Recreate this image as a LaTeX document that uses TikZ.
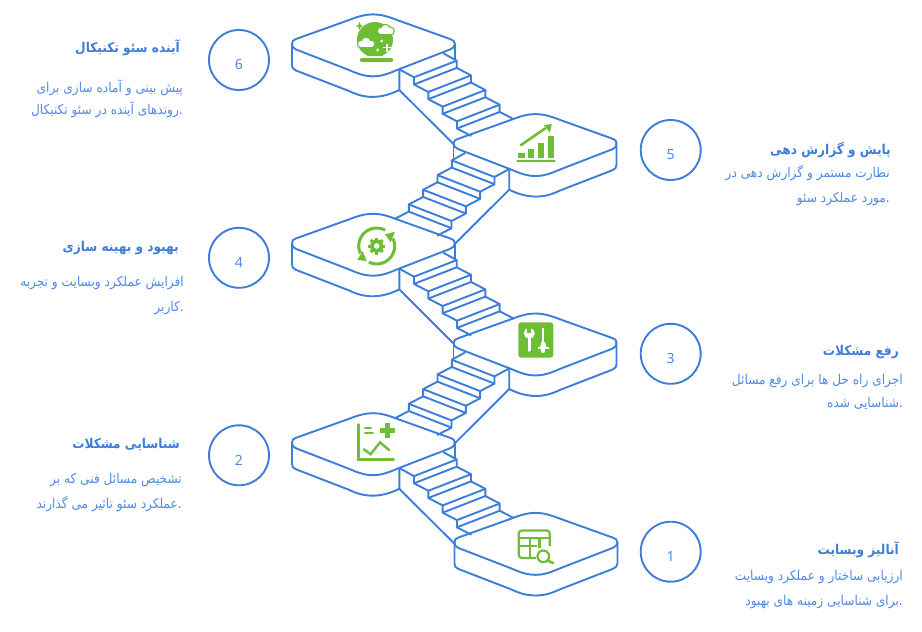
\documentclass[tikz,border=0pt]{standalone}
\usepackage{fontspec}
\setmainfont{Noto Sans}
\newfontfamily\farsifont[Script=Arabic,FakeStretch=0.9]{DejaVu Sans}
\TeXXeTstate=1
\definecolor{stairblue}{HTML}{3C7DD9}
\definecolor{textblue}{HTML}{4F8AE3}
\definecolor{icongreen}{HTML}{6DBE35}
\tikzset{
  stairline/.style={color=stairblue,line width=1.9pt,line join=round},
  iconfill/.style={fill=icongreen,draw=none},
  iconline/.style={color=icongreen,line width=2.4pt,line cap=round},
  stepcircle/.style={circle,draw=stairblue,line width=1.9pt,minimum size=60pt,inner sep=0pt},
  numtext/.style={color=textblue,inner sep=0pt,font=\fontsize{14}{16}\selectfont},
  titletext/.style={color=stairblue,anchor=east,inner sep=0pt,font=\farsifont\bfseries\fontsize{13.5}{16}\selectfont},
  bodytext/.style={color=textblue,anchor=east,align=right,inner sep=0pt,font=\farsifont\fontsize{13.5}{24}\selectfont},
  platform/.pic={
    \draw[stairline] (-81,-1) .. controls (-81,-4) and (-80,-5) .. (-77,-6) -- (-24,-25)
      .. controls (-5,-32.5) and (5,-32.5) .. (24,-25) -- (77,-6)
      .. controls (80,-5) and (82,-4) .. (82,-1) .. controls (82,2) and (80,3) .. (77,4.5) -- (24,25)
      .. controls (5,33.5) and (-5,33.5) .. (-24,25) -- (-77,4.5)
      .. controls (-80,3) and (-81,2) .. (-81,-1);
    \draw[stairline] (-81,-1) -- (-81,20) .. controls (-81,23) and (-80,24) .. (-77,25.5) -- (-24,46)
      .. controls (-8,54) and (8,54) .. (26.3,45) -- (26.3,24);
  },
  endplatform/.pic={
    \draw[stairline] (-81,-1) .. controls (-81,-4) and (-80,-5) .. (-77,-6) -- (-24,-25)
      .. controls (-5,-32.5) and (5,-32.5) .. (24,-25) -- (77,-6)
      .. controls (80,-5) and (82,-4) .. (82,-1) .. controls (82,2) and (80,3) .. (77,4.5) -- (24,25)
      .. controls (5,33.5) and (-5,33.5) .. (-24,25) -- (-77,4.5)
      .. controls (-80,3) and (-81,2) .. (-81,-1);
    \draw[stairline] (-81,-1) -- (-81,20) .. controls (-81,23) and (-80,24) .. (-77,25.5) -- (-24,46)
      .. controls (-8,54) and (8,54) .. (24,46) -- (77,25.5)
      .. controls (80,24) and (82,23) .. (82,20) -- (82,-1);
  },
  stairs/.pic={
    \draw[stairline] (26.3,45) -- (81.5,100);
    \draw[stairline] (82,-1) -- (82,14.5);
    \draw[stairline] (26.3,24.3) -- (41,32.3);
    \draw[stairline] (70.3,8.3) -- (83.7,15.7);
    \foreach \i in {0,1,2,3} {
      \pgfmathsetmacro{\lx}{41+14.33*\i}
      \pgfmathsetmacro{\ly}{32.3+14.67*\i}
      \pgfmathsetmacro{\rx}{83.7+14.33*\i}
      \pgfmathsetmacro{\ry}{15.7+14.67*\i}
      \draw[stairline] (\lx,\ly) -- (\rx,\ry) -- ++(0,7.2) -- (\lx,\ly+7.2) -- cycle;
      \draw[stairline] (\lx,\ly+7.2) -- ++(14.33,7.47);
      \draw[stairline] (\rx,\ry+7.2) -- ++(14.33,7.47);
    }
  }
}

\begin{document}
\begin{tikzpicture}[x=1pt,y=-1pt]

  \useasboundingbox (0,0) rectangle (922,632);

  \pic at (373,45) {stairs};
  \pic[xscale=-1] at (535.5,144.7) {stairs};
  \pic at (373,244.4) {stairs};
  \pic[xscale=-1] at (535.5,344.1) {stairs};
  \pic at (373,443.8) {stairs};

  \pic at (373,45) {platform};
  \pic[xscale=-1] at (535.5,144.7) {platform};
  \pic at (373,244.4) {platform};
  \pic[xscale=-1] at (535.5,344.1) {platform};
  \pic at (373,443.8) {platform};
  \pic at (535.5,543.5) {endplatform};

  \node[stepcircle] (circle6) at (239,60) {};
  \node[stepcircle] (circle5) at (670.7,150) {};
  \node[stepcircle] (circle4) at (239,257.8) {};
  \node[stepcircle] (circle3) at (670.7,353.8) {};
  \node[stepcircle] (circle2) at (239,455.3) {};
  \node[stepcircle] (circle1) at (670.7,551.7) {};

  \node[numtext] (num6) at (239,64.5) {6};
  \node[numtext] (num5) at (670.7,154.5) {5};
  \node[numtext] (num4) at (239,262.5) {4};
  \node[numtext] (num3) at (670.7,358.8) {3};
  \node[numtext] (num2) at (239,460.5) {2};
  \node[numtext] (num1) at (670.7,556.7) {1};

  \node[titletext] (title6) at (180,48) {\beginR آینده سئو تکنیکال\endR};
  \node[titletext] (title5) at (891,150) {\beginR پایش و گزارش دهی\endR};
  \node[titletext] (title4) at (179,248) {\beginR بهبود و بهینه سازی\endR};
  \node[titletext] (title3) at (899,352) {\beginR رفع مشکلات\endR};
  \node[titletext] (title2) at (180,444) {\beginR شناسایی مشکلات\endR};
  \node[titletext] (title1) at (899,550) {\beginR آنالیز وبسایت\endR};

  \node[bodytext] (body6) at (183,99) {\beginR پیش بینی و آماده سازی برای\endR\\[-2pt]\beginR .روندهای آینده در سئو تکنیکال\endR};
  \node[bodytext] (body5) at (890,185.5) {\beginR نظارت مستمر و گزارش دهی در\endR\\[1pt]\beginR .مورد عملکرد سئو\endR};
  \node[bodytext] (body4) at (184,295.5) {\beginR افزایش عملکرد وبسایت و تجربه\endR\\[1pt]\beginR .کاربر\endR};
  \node[bodytext] (body3) at (903,391.5) {\beginR اجرای راه حل ها برای رفع مسائل\endR\\[-1pt]\beginR .شناسایی شده\endR};
  \node[bodytext] (body2) at (182,492.5) {\beginR تشخیص مسائل فنی که بر\endR\\[1pt]\beginR .عملکرد سئو تاثیر می گذارند\endR};
  \node[bodytext] (body1) at (903,589.5) {\beginR ارزیابی ساختار و عملکرد وبسایت\endR\\[1pt]\beginR .برای شناسایی زمینه های بهبود\endR};

  % crystal ball
  \fill[iconfill] (368,56) .. controls (360,52) and (357,46) .. (357,40)
    .. controls (357,30) and (365,22) .. (375,22) .. controls (385,22) and (393,30) .. (393,40)
    .. controls (393,46) and (390,52) .. (382,56) -- cycle;
  \draw[icongreen,line width=4.4pt,line cap=round] (362,60) -- (391,60);
  \fill[iconfill] (359.5,22) -- (360.8,25) -- (363.5,26) -- (360.8,27) -- (359.5,30) -- (358.2,27) -- (355.5,26) -- (358.2,25) -- cycle;
  \foreach \cx/\cy/\cr in {381/31/3,385.5/29/4,390.5/31/3.2,361/44/3,366/42/4.2,371/44/3.2} {
    \draw[fill=icongreen,draw=icongreen,line width=2.4pt] (\cx,\cy) circle[radius=\cr];
  }
  \foreach \cx/\cy/\cr in {381/31/3,385.5/29/4,390.5/31/3.2,361/44/3,366/42/4.2,371/44/3.2} {
    \fill[white] (\cx,\cy) circle[radius=\cr];
  }
  \fill[white] (381,31) rectangle (390.5,34.2);
  \fill[white] (361,44) rectangle (371,47.2);
  \fill[white] (381.5,41) circle[radius=1.5];
  \fill[white] (377.5,50) circle[radius=1.5];
  \draw[white,line width=1.7pt] (383,47.5) -- (391,47.5);
  \draw[white,line width=1.7pt] (387,43.5) -- (387,51.5);

  % growth chart
  \fill[iconfill] (518.3,153.3) rectangle (524.7,157.5);
  \fill[iconfill] (528,148.7) rectangle (534,157.5);
  \fill[iconfill] (538,142.7) rectangle (544,157.5);
  \fill[iconfill] (548,136) rectangle (554,157.5);
  \draw[icongreen,line width=2.6pt,line cap=round] (517.5,161) -- (554.5,161);
  \draw[icongreen,line width=2.6pt,line cap=round] (521,145) -- (545,128.5);
  \fill[iconfill] (551.7,124) -- (543.5,125) -- (550,132.7) -- cycle;

  % gear and arrows
  \draw[icongreen,line width=3pt] (376.7,246) ++(-62:18) arc[start angle=-62,end angle=-205,radius=18];
  \draw[icongreen,line width=3pt] (376.7,246) ++(116:18) arc[start angle=116,end angle=-25,radius=18];
  \fill[iconfill] (357.3,260) -- (366.7,261) -- (362.7,251) -- cycle;
  \fill[iconfill] (395,231.7) -- (385,234.3) -- (390.7,242.3) -- cycle;
  \fill[iconfill] (376.7,246) circle[radius=6.7];
  \foreach \a in {0,45,...,315} {
    \fill[iconfill,rotate around={\a:(376.7,246)}] (375.2,237.5) rectangle (378.2,241);
  }
  \fill[white] (376.7,246) circle[radius=2.8];

  % tools
  \fill[iconfill,rounded corners=3pt] (518.3,322.3) rectangle (553.3,357.7);
  \fill[white] (529.3,333.3) circle[radius=5.5];
  \fill[iconfill] (527.3,326) rectangle (531.3,333);
  \draw[white,line width=3.6pt,line cap=round] (529.3,335) -- (529.3,350);
  \draw[white,line width=2.2pt] (543.3,328.3) -- (543.3,352);
  \draw[white,line width=4pt,line cap=round] (543.3,349) -- (543.3,351);
  \fill[white] (538,346.7) -- (548.6,346.7) -- (548.6,348.7) -- (538,348.7) -- cycle;
  \fill[white] (541.5,342) -- (545.1,342) -- (546.5,347) -- (540.1,347) -- cycle;

  % chart and plus
  \draw[iconline] (358.3,424.5) -- (358.3,459.3) -- (393.7,459.3);
  \draw[iconline,line cap=butt,line width=5pt] (387.7,423.3) -- (387.7,437.7);
  \draw[iconline,line cap=butt,line width=5pt] (380.2,430.7) -- (395.3,430.7);
  \draw[iconline,line width=2pt] (365,427.5) -- (371,427.5);
  \draw[iconline,line width=2pt] (365,433.3) -- (373,433.3);
  \draw[iconline] (364,449.3) -- (370.7,454.3) -- (380,442.3) -- (389,450);

  % table and lens
  \draw[icongreen,line width=2.2pt,rounded corners=3pt] (536,558) -- (518.8,558) -- (518.8,530.5) -- (549.8,530.5) -- (549.8,546);
  \draw[icongreen,line width=2.2pt] (518.8,538) -- (549.8,538);
  \draw[icongreen,line width=2.2pt] (518.8,546) -- (537,546);
  \draw[icongreen,line width=2.2pt] (530,538) -- (530,558);
  \draw[icongreen,line width=2.2pt] (539.5,538) -- (539.5,548);
  \draw[icongreen,line width=2.2pt] (543.3,556.3) circle[radius=5.8];
  \draw[icongreen,line width=2.6pt,line cap=round] (547.5,560.5) -- (553,563);

\end{tikzpicture}
\end{document}
